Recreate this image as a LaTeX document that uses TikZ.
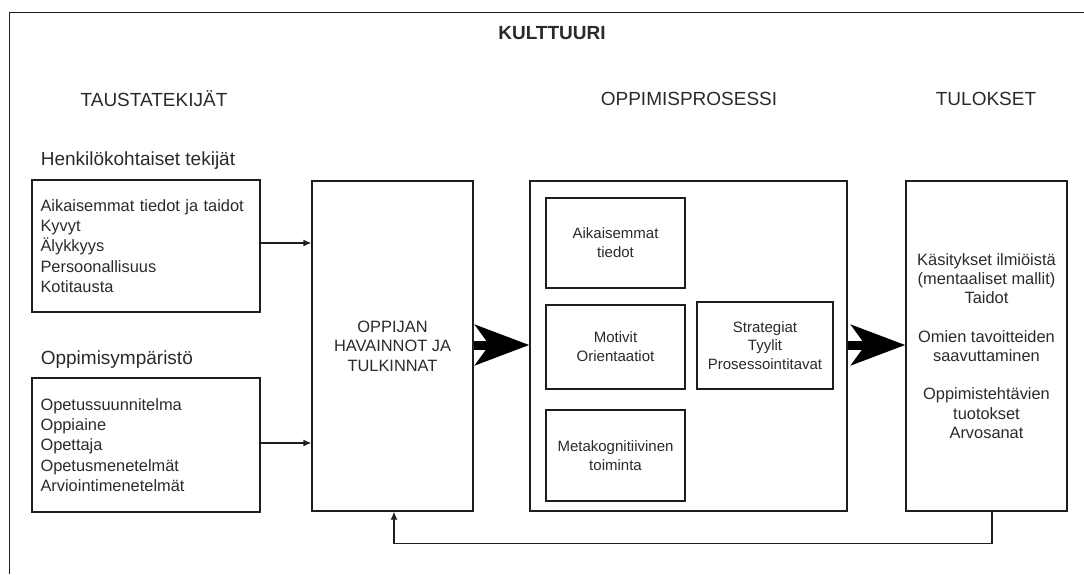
\documentclass[tikz,border=0pt]{standalone}
\usepackage{fontspec}
\setmainfont{Liberation Sans}
\usetikzlibrary{arrows.meta}
\definecolor{ink}{HTML}{1E1E1E}
\definecolor{txt}{HTML}{2A2A2A}
\tikzset{
  box/.style={draw=ink, line width=1.3pt, rectangle, inner sep=0pt, text=txt},
  listbox/.style={box, align=left, inner xsep=8.5pt, font=\fontsize{16.4}{20.2}\selectfont},
  bigbox/.style={box, align=center, font=\fontsize{16.4}{19.6}\selectfont},
  smallbox/.style={box, align=center, font=\fontsize{15}{18.8}\selectfont},
  heading/.style={inner sep=0pt, text=txt, font=\fontsize{19}{23}\selectfont},
  thin arrow/.style={draw=ink, line width=1.3pt, -{Latex[length=8pt,width=7pt]}},
  fat arrow/.style={draw=black, line width=9pt, -{Stealth[length=54pt,width=40pt,inset=14pt]}}
}
\begin{document}
\begin{tikzpicture}[x=1pt,y=-1pt]
\useasboundingbox (0,0) rectangle (1084,574);
% frame
\coordinate (fr) at (9.5,574);
\coordinate (fc) at (9.5,12.5);
\coordinate (ft) at (1084,12.5);
\draw[ink, line width=1.8pt] (fr) -- (fc) -- (ft);

\node[heading, font=\bfseries\fontsize{19}{23}\selectfont] (kult) at (552,33) {KULTTUURI};
\node[heading] (taus) at (154,99) {TAUSTATEKIJÄT};
\node[heading] (opp) at (689,99) {OPPIMISPROSESSI};
\node[heading] (tulh) at (986,99) {TULOKSET};
\node[heading, anchor=west] (henk) at (40.6,161) {Henkilökohtaiset tekijät};
\node[heading, anchor=west] (ympa) at (40.6,360) {Oppimisympäristö};

\node[listbox, text width=211pt, minimum height=132pt] (b1) at (146,246)
 {Aikaisemmat tiedot ja taidot\\Kyvyt\\Älykkyys\\Persoonallisuus\\Kotitausta};
\node[listbox, text width=211pt, minimum height=134pt] (b2) at (146,445)
 {Opetussuunnitelma\\Oppiaine\\Opettaja\\Opetusmenetelmät\\Arviointimenetelmät};

\node[bigbox, minimum width=161pt, minimum height=330pt] (b3) at (392.5,346)
 {OPPIJAN\\HAVAINNOT JA\\TULKINNAT};

\node[box, minimum width=317pt, minimum height=330pt] (proc) at (688.5,346) {};
\node[smallbox, minimum width=139pt, minimum height=90pt] (ia) at (615.5,243) {Aikaisemmat\\tiedot};
\node[smallbox, minimum width=139pt, minimum height=84pt] (im) at (615.5,347) {Motivit\\Orientaatiot};
\node[smallbox, minimum width=136pt, minimum height=87pt] (is) at (765,345.5) {Strategiat\\Tyylit\\Prosessointitavat};
\node[smallbox, minimum width=139pt, minimum height=91pt] (imk) at (615.5,455.5) {Metakognitiivinen\\toiminta};

\node[box, align=center, minimum width=161pt, minimum height=330pt,
      font=\fontsize{16.4}{19.2}\selectfont] (tul) at (986.5,346)
 {Käsitykset ilmiöistä\\(mentaaliset mallit)\\Taidot\\[19.2pt]Omien tavoitteiden\\saavuttaminen\\[19.2pt]Oppimistehtävien\\tuotokset\\Arvosanat};

% arrows
\draw[thin arrow] (b1.east |- 0,243) -- (b3.west |- 0,243);
\draw[thin arrow] (b2.east |- 0,443) -- (b3.west |- 0,443);
\draw[fat arrow] (b3.east |- 0,345) -- (proc.west |- 0,345);
\draw[fat arrow] (proc.east |- 0,345) -- (tul.west |- 0,345);
\draw[thin arrow] ([xshift=5.5pt]tul.south) -- ++(0,32) -| ([xshift=1.5pt]b3.south);
\end{tikzpicture}
\end{document}
